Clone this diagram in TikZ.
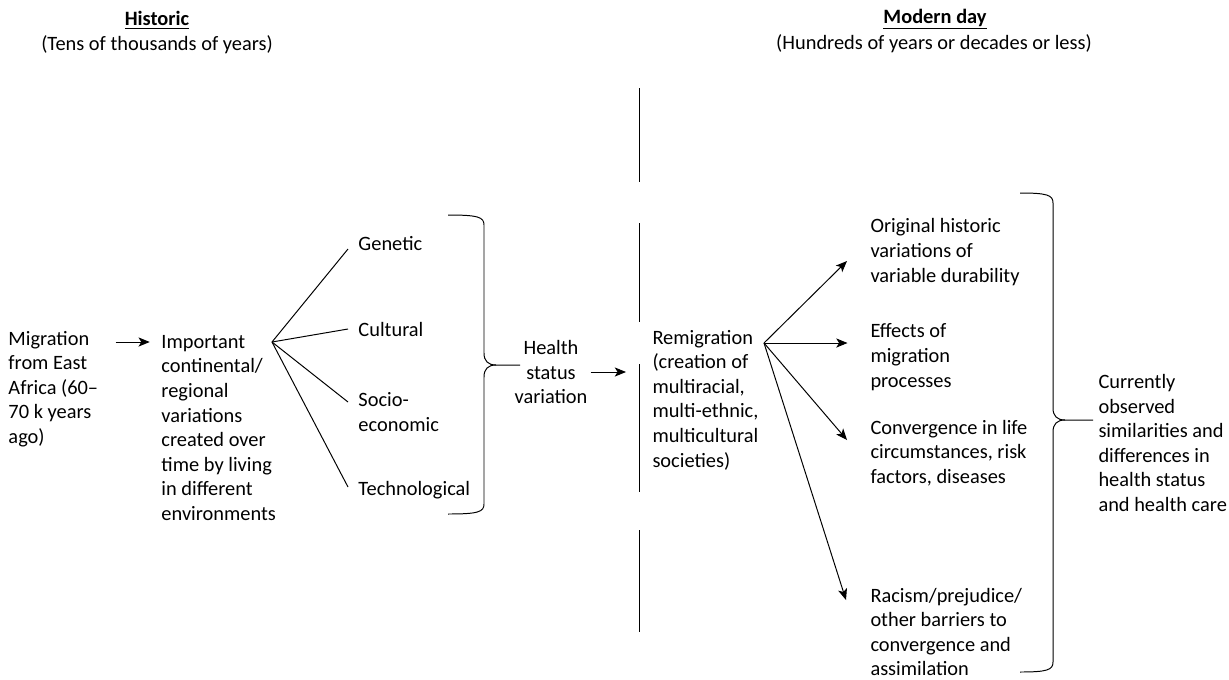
\documentclass[tikz,border=0pt]{standalone}
\usepackage{fontspec}
\setmainfont{Carlito}
\usetikzlibrary{arrows.meta,calc}
% curly bracket opening to the right: tails at x=#1, spine at x=#2, tip at x=#3; top, tip and bottom heights #4, #5, #6
\def\sidebrace(#1:#2:#3)(#4:#5:#6){%
  \draw (#1,#4) .. controls ({#2-6},#4) and (#2,{#4+2}) .. (#2,{#4+10}) -- (#2,{#5-12})
    .. controls (#2,{#5-4}) and ({#2+4},#5) .. ({#2+12},#5) -- (#3,#5);
  \draw ({#2+12},#5) .. controls ({#2+4},#5) and (#2,{#5+4}) .. (#2,{#5+12}) -- (#2,{#6-10})
    .. controls (#2,{#6-2}) and ({#2-6},#6) .. (#1,#6);}

\begin{document}
\begin{tikzpicture}[x=0.025cm, y=-0.025cm, line width=0.7pt,
    font=\fontsize{14.5}{17.5}\selectfont,
    txt/.style={anchor=west, align=left, inner sep=0pt},
    arr/.style={-{Stealth[length=8pt,width=6.5pt,inset=2pt]}}]
			\useasboundingbox (0,0) rectangle (1229,679);
			
			%%%%% HEADINGS %%%%%
			\node (hist) at (157,20) {\underline{\textbf{Historic}}};
			\node (histsub) at (157,45) {(Tens of thousands of years)};
			\node (mod) at (935,19) {\underline{\textbf{Modern day}}};
			\node (modsub) at (934,44) {(Hundreds of years or decades or less)};
			
			%%%%% HISTORIC SIDE %%%%%
			\node[txt] (mig) at (8,389) {Migration\\from East\\Africa (60--\\70 k years\\ago)};
			\node[txt] (imp) at (161,428) {Important\\continental/\\regional\\variations\\created over\\time by living\\in different\\environments};
			\coordinate (hubA) at (272,342);
			\draw[arr, shorten <=12pt, shorten >=8pt] (mig.east |- hubA) -- (imp.west |- hubA);
			
			\node[txt] (gen) at (358,244) {Genetic};
			\node[txt] (cul) at (358,329) {Cultural};
			\node[txt] (soc) at (358,412) {Socio-\\economic};
			\node[txt] (tec) at (358,490) {Technological};
			\draw (hubA) -- ([shift={(-10,5)}]gen.west);
			\draw (hubA) -- ([shift={(-10,0)}]cul.west);
			\draw (hubA) -- ([shift={(-10,-10)}]soc.west);
			\draw (hubA) -- ([shift={(-10,-3)}]tec.west);
			
			\sidebrace(448:484:520)(215:365:514);
			
			\node[align=center, inner sep=0pt] (hs) at (551,372) {Health\\status\\variation};
			\coordinate (gap) at (626,372);
			\draw[arr, shorten <=2pt] (hs.east |- gap) -- (gap);
			
			%%%%% DIVIDER %%%%%
			\draw (639,88) -- (639,182);
			\draw (639,223) -- (639,322);
			\draw (639,364) -- (639,492);
			\draw (639,530) -- (639,632);
			
			%%%%% MODERN DAY SIDE %%%%%
			\node[txt] (rem) at (652,400) {Remigration\\(creation of\\multiracial,\\multi-ethnic,\\multicultural\\societies)};
			\coordinate (hubB) at (764,343);
			
			\node[txt] (orig) at (870,252) {Original historic\\variations of\\variable durability};
			\node[txt] (eff) at (870,357) {Effects of\\migration\\processes};
			\node[txt] (conv) at (870,453) {Convergence in life\\circumstances, risk\\factors, diseases};
			\node[txt] (rac) at (870,632) {Racism/prejudice/\\other barriers to\\convergence and\\assimilation};
			\draw[arr] (hubB) -- ([shift={(-23,9)}]orig.west);
			\draw[arr, shorten >=16pt] (hubB) -- (eff.west |- hubB);
			\draw[arr] (hubB) -- ([shift={(-23,-13)}]conv.west);
			\draw[arr] (hubB) -- ([shift={(-24,-32)}]rac.west);
			
			\sidebrace(1020:1053:1093)(193:420:672);
			
			\node[txt] (cur) at (1098,443) {Currently\\observed\\similarities and\\differences in\\health status\\and health care};
			
			%%%%% END %%%%%
\end{tikzpicture}
\end{document}
